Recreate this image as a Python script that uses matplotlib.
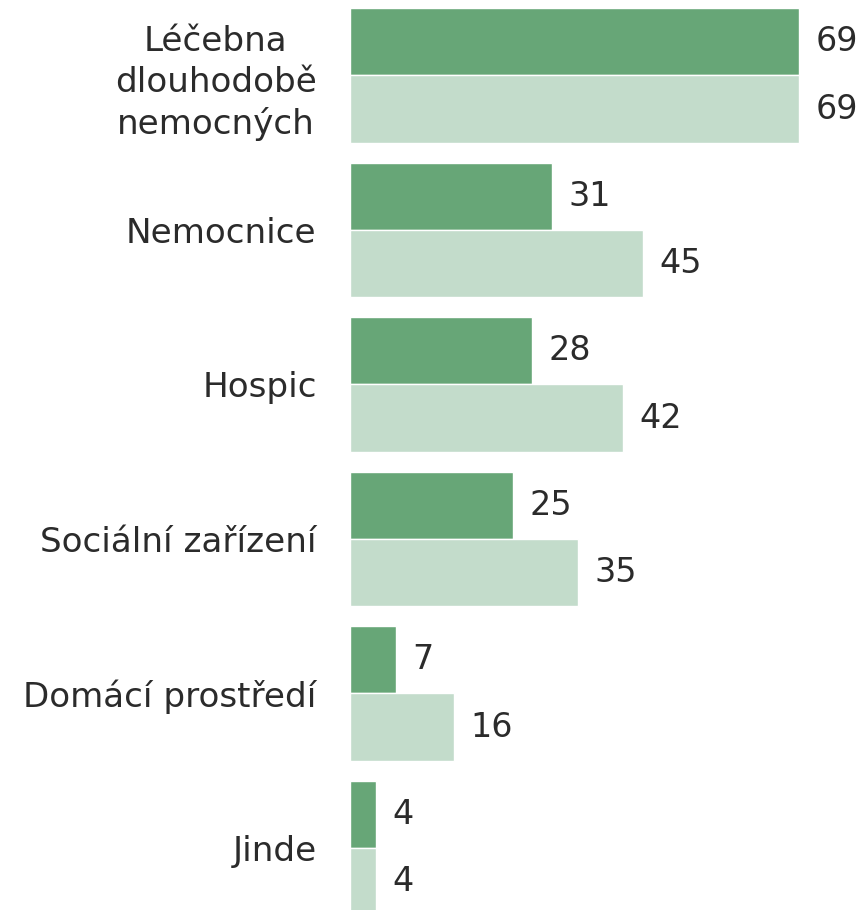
import matplotlib
matplotlib.use("Agg")
import matplotlib.pyplot as plt
import numpy as np

categories = ["Léčebna\ndlouhodobě\nnemocných", "Nemocnice", "Hospic",
              "Sociální zařízení", "Domácí prostředí", "Jinde"]
series_dark = [69, 31, 28, 25, 7, 4]
series_light = [69, 45, 42, 35, 16, 4]

dark_color = "#67a677"
light_color = "#c3dccb"
text_color = "#2b2b2b"

fig = plt.figure(figsize=(8.67, 9.10), dpi=100)
ax = fig.add_axes([350/867, 0, 1 - 350/867, 1])

y = np.arange(len(categories))
h = 0.435
b1 = ax.barh(y - h/2, series_dark, height=h, color=dark_color,
             edgecolor="white", linewidth=1)
b2 = ax.barh(y + h/2, series_light, height=h, color=light_color,
             edgecolor="white", linewidth=1)

ax.bar_label(b1, labels=[str(v) for v in series_dark], padding=12,
             fontsize=24, color=text_color)
ax.bar_label(b2, labels=[str(v) for v in series_light], padding=12,
             fontsize=24, color=text_color)

ax.set_xlim(0, 79.5)
ax.set_ylim((910 - 75.5) / 154.5, -75.5 / 154.5)
ax.set_yticks(y)
ax.set_yticklabels(categories, fontsize=24.6, color=text_color,
                   multialignment="center", linespacing=1.3)
ax.tick_params(axis="y", length=0, pad=24)
ax.set_xticks([])
for s in ax.spines.values():
    s.set_visible(False)

fig.savefig("out.png", dpi=100)
